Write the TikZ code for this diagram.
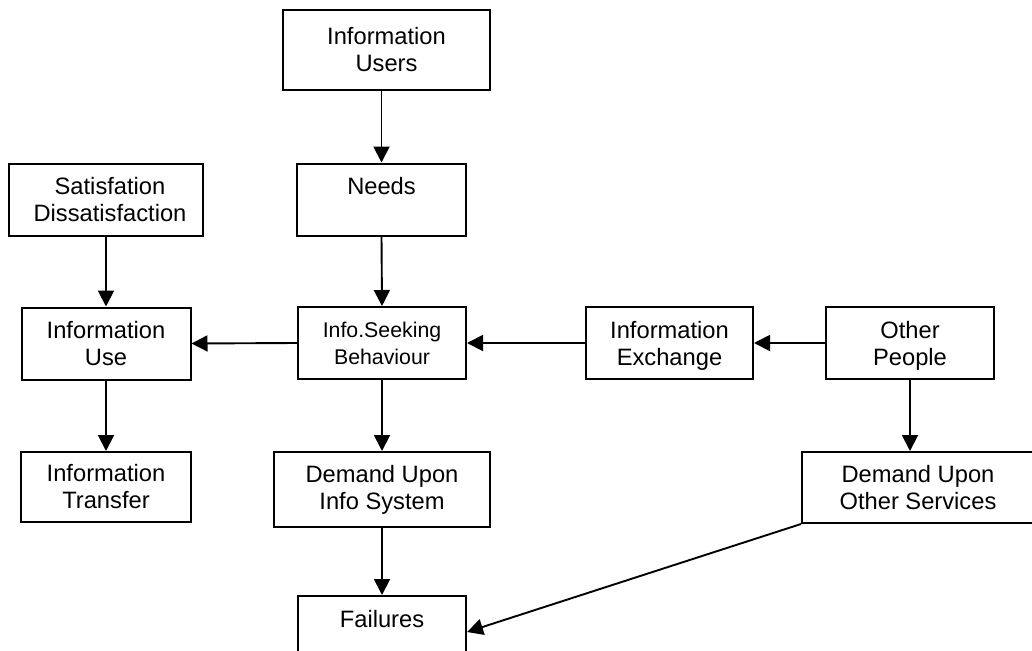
\documentclass[tikz,border=0pt]{standalone}
\usepackage{tikz}
\usepackage{xcolor}
\usepackage{fontspec}
\setmainfont{Liberation Sans}
\usetikzlibrary{arrows.meta}

\begin{document}
\begin{tikzpicture}[x=1pt,y=-1pt,
  infobox/.style={draw,line width=2pt,minimum height=72pt,inner sep=0pt,align=center,font=\fontsize{23.7}{27}\selectfont},
  flow/.style={line width=1.9pt,-{Triangle[length=16pt,width=16pt]}}]
\useasboundingbox (0,0) rectangle (1032,650);
  \node [infobox,minimum width=207pt,minimum height=80pt] (users) at (386.5,50) {Information\\Users};
  \node [infobox,minimum width=169pt] (needs) at (381.5,199.5) {Needs\\~};
  \node [infobox,minimum width=194pt] (satis) at (106,199.5) {\hspace*{8pt}Satisfation\\\hspace*{8pt}Dissatisfaction};
  \node [infobox,minimum width=169pt] (use) at (106,343.5) {Information\\Use};
  \node [infobox,minimum width=168pt,font=\fontsize{21.3}{27}\selectfont] (seek) at (382,343) {Info.Seeking\\Behaviour};
  \node [infobox,minimum width=167pt,text depth=-4pt] (exch) at (669.5,343) {Information\\Exchange};
  \node [infobox,minimum width=168pt,text depth=-4pt] (other) at (910,343) {Other\\People};
  \node [infobox,minimum width=170pt,minimum height=70pt] (transfer) at (106,487) {Information\\Transfer};
  \node [infobox,minimum width=216pt,minimum height=75pt] (sysdemand) at (382,489.5) {Demand Upon\\Info System};
  \node [infobox,minimum width=232pt,minimum height=71pt] (otherdemand) at (918,487.5) {Demand Upon\\Other Services};
  \node [infobox,minimum width=168pt] (fail) at (382,632) {Failures\\~};
% arrows between the boxes
  \draw [flow] (needs.north |- users.south) -- (needs.north);
  \draw [flow] (other.south) -- (other.south |- otherdemand.north);
  \foreach \from/\to in {needs.south/seek.north,satis.south/use.north,seek.west/use.east,
    exch.west/seek.east,other.west/exch.east,use.south/transfer.north,
    seek.south/sysdemand.north,sysdemand.south/fail.north,otherdemand.south west/fail.east}
  {  \draw [flow] (\from) -- (\to);}
\end{tikzpicture}
\end{document}
